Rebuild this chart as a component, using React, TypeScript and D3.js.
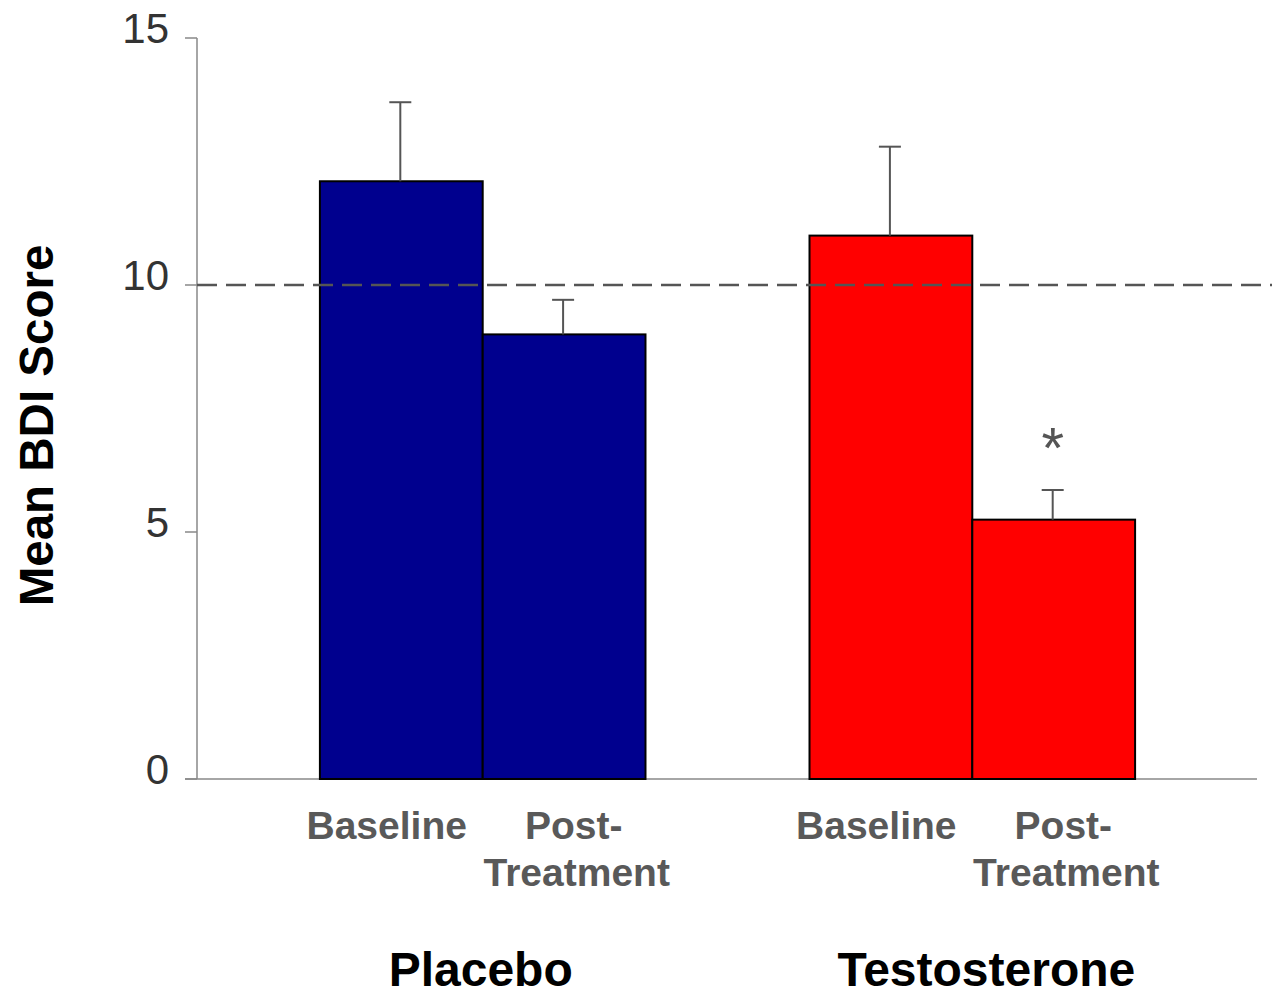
import React, { useRef, useEffect } from 'react';
import * as d3 from 'd3';

const groups = ['Placebo', 'Testosterone'];
const conditions = ['Baseline', 'Post-Treatment'];
const conditionLines = [['Baseline'], ['Post-', 'Treatment']];
const placeboMeans = [12.1, 9.0];
const placeboErrors = [1.6, 0.7];
const testosteroneMeans = [11.0, 5.25];
const testosteroneErrors = [1.8, 0.6];
const significant = [[false, false], [false, true]];
const groupColors = ['#00008E', '#FF0000'];
const yTicks = [0, 5, 10, 15];
const cutoff = 10;

const W = 1272;
const H = 995;
const FONT = 'Arial, "Liberation Sans", Helvetica, sans-serif';

const App = () => {
  const svgRef = useRef<SVGSVGElement>(null);

  useEffect(() => {
    const svg = d3.select(svgRef.current);
    svg.selectAll('*').remove();

    const margin = { top: 38, right: 15, bottom: 216, left: 197 };
    const plotBottom = H - margin.bottom;

    const y = d3.scaleLinear().domain([0, 15]).range([plotBottom, margin.top]);
    const x0 = d3.scaleBand<string>()
      .domain(groups)
      .range([margin.left + 1, W - margin.right])
      .paddingInner(0.335)
      .paddingOuter(0.249);
    const x1 = d3.scaleBand<string>()
      .domain(conditions)
      .range([0, x0.bandwidth()])
      .padding(0);

    const means = [placeboMeans, testosteroneMeans];
    const errors = [placeboErrors, testosteroneErrors];
    const rows = groups.flatMap((g, gi) =>
      conditions.map((c, ci) => ({
        group: g,
        cond: c,
        gi,
        ci,
        mean: means[gi][ci],
        err: errors[gi][ci],
        sig: significant[gi][ci],
      }))
    );

    // axes
    svg.append('line')
      .attr('x1', margin.left).attr('x2', margin.left)
      .attr('y1', y(15)).attr('y2', plotBottom)
      .attr('stroke', '#888').attr('stroke-width', 1.5);
    svg.append('line')
      .attr('x1', margin.left - 12).attr('x2', W - margin.right)
      .attr('y1', plotBottom).attr('y2', plotBottom)
      .attr('stroke', '#888').attr('stroke-width', 1.5);

    const ticks = svg.append('g');
    ticks.selectAll('line')
      .data(yTicks)
      .enter()
      .append('line')
      .attr('x1', margin.left - 12).attr('x2', margin.left)
      .attr('y1', d => y(d)).attr('y2', d => y(d))
      .attr('stroke', '#888').attr('stroke-width', 1.5);
    ticks.selectAll('text')
      .data(yTicks)
      .enter()
      .append('text')
      .attr('x', margin.left - 28)
      .attr('y', d => y(d) + 5)
      .attr('text-anchor', 'end')
      .style('font-family', FONT)
      .style('font-size', '42px')
      .style('fill', '#333')
      .text(d => d);

    // bars
    svg.append('g').selectAll('rect')
      .data(rows)
      .enter()
      .append('rect')
      .attr('x', d => x0(d.group)! + x1(d.cond)!)
      .attr('y', d => y(d.mean))
      .attr('width', x1.bandwidth())
      .attr('height', d => plotBottom - y(d.mean))
      .attr('fill', d => groupColors[d.gi])
      .attr('stroke', '#000')
      .attr('stroke-width', 2);

    // error bars
    const eb = svg.append('g').attr('stroke', '#555').attr('stroke-width', 2);
    rows.forEach(d => {
      const cx = x0(d.group)! + x1(d.cond)! + x1.bandwidth() / 2 - 1;
      eb.append('line')
        .attr('x1', cx).attr('x2', cx)
        .attr('y1', y(d.mean)).attr('y2', y(d.mean + d.err));
      eb.append('line')
        .attr('x1', cx - 11).attr('x2', cx + 11)
        .attr('y1', y(d.mean + d.err)).attr('y2', y(d.mean + d.err));
      if (d.sig) {
        svg.append('text')
          .attr('x', cx)
          .attr('y', y(d.mean + d.err) - 22)
          .attr('text-anchor', 'middle')
          .style('font-family', FONT)
          .style('font-size', '58px')
          .style('fill', '#555')
          .text('*');
      }
    });

    // cutoff line
    svg.append('line')
      .attr('x1', margin.left).attr('x2', W)
      .attr('y1', y(cutoff)).attr('y2', y(cutoff))
      .attr('stroke', '#555')
      .attr('stroke-width', 2.5)
      .attr('stroke-dasharray', '20,9');

    // condition labels, placed around each group's centre
    const labelOffset = [-96, 94];
    rows.forEach(d => {
      const gc = x0(d.group)! + x0.bandwidth() / 2;
      const t = svg.append('text')
        .attr('text-anchor', 'middle')
        .style('font-family', FONT)
        .style('font-size', '39px')
        .style('font-weight', 'bold')
        .style('fill', '#595959');
      conditionLines[d.ci].forEach((ln, i) => {
        t.append('tspan')
          .attr('x', gc + labelOffset[d.ci] + (i === 0 && d.ci === 1 ? -3 : 0))
          .attr('y', plotBottom + 60 + i * 47)
          .text(ln);
      });
    });

    // group labels
    const groupNudge = [-2, 14];
    svg.append('g').selectAll('text')
      .data(groups)
      .enter()
      .append('text')
      .attr('x', (d, i) => x0(d)! + x0.bandwidth() / 2 + groupNudge[i])
      .attr('y', H - 9)
      .attr('text-anchor', 'middle')
      .style('font-family', FONT)
      .style('font-size', '48px')
      .style('font-weight', 'bold')
      .style('fill', '#000')
      .text(d => d);

    // y title
    svg.append('text')
      .attr('transform', `translate(53, ${(margin.top + plotBottom) / 2 + 17}) rotate(-90)`)
      .attr('text-anchor', 'middle')
      .style('font-family', FONT)
      .style('font-size', '47.5px')
      .style('font-weight', 'bold')
      .style('fill', '#000')
      .text('Mean BDI Score');
  }, []);

  return (
    <div style={{ position: 'absolute', left: 0, top: 0, background: '#fff' }}>
      <svg ref={svgRef} width={W} height={H} style={{ display: 'block' }} />
    </div>
  );
};

export default App;
